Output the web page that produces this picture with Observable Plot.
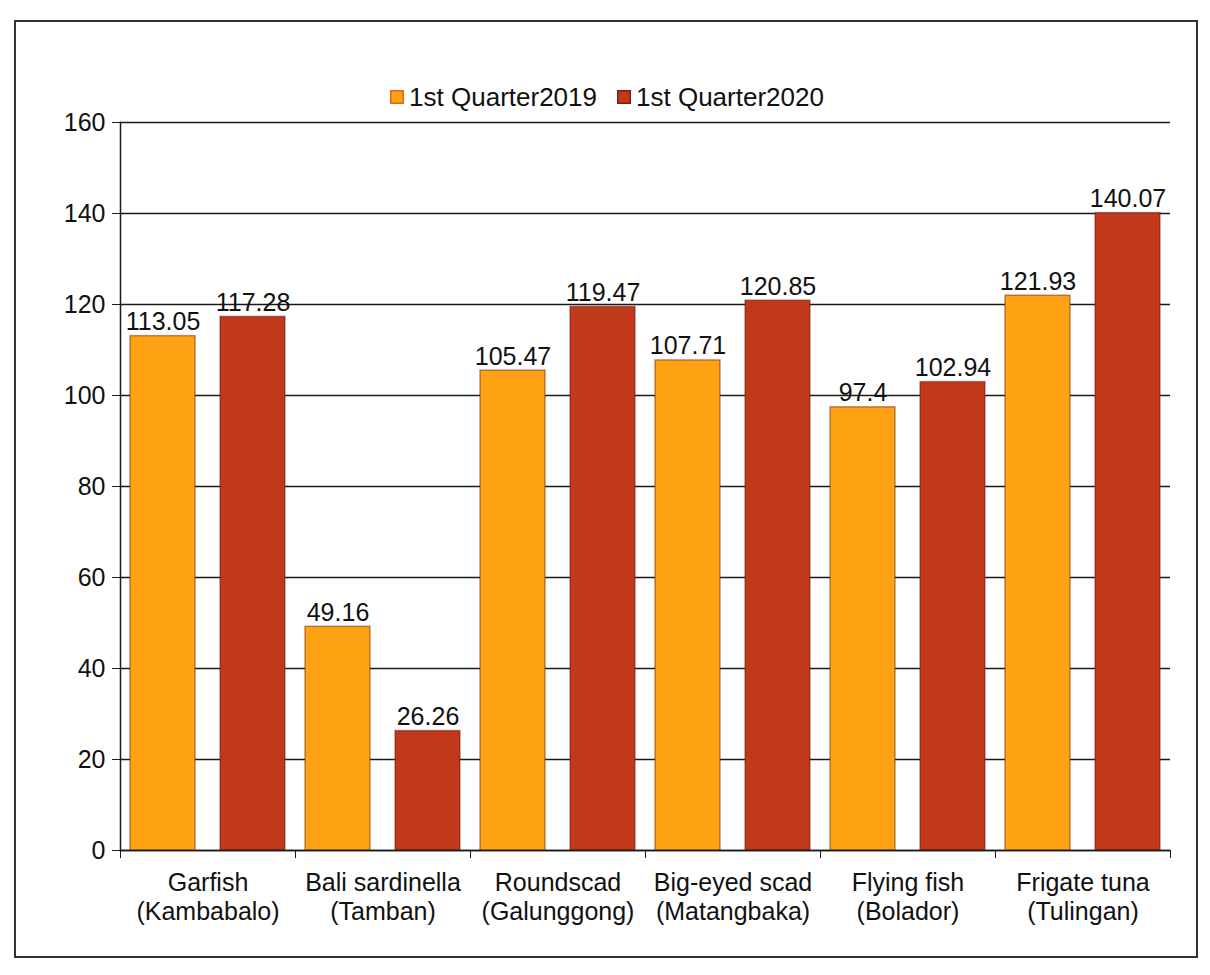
<!DOCTYPE html>
<html><head><meta charset="utf-8">
<script src="https://cdn.jsdelivr.net/npm/d3@7"></script>
<script src="https://cdn.jsdelivr.net/npm/@observablehq/plot@0.6"></script>
<style>
body{margin:0;background:#fff;font-family:"Liberation Sans",Arial,sans-serif;color:#111;}
#border{position:absolute;left:14px;top:20px;width:1184px;height:938px;border:2px solid #333;box-sizing:border-box;}
#legend{position:absolute;top:83px;left:0;width:1214px;display:flex;justify-content:center;gap:20px;font-size:26px;line-height:28px;}
#legend span.sw{display:inline-block;width:14px;height:14px;margin-right:5px;vertical-align:2px;}
#chart{position:absolute;top:108px;left:0;}
</style>
</head><body>
<div id="border"></div>
<div id="legend"></div>
<div id="chart"></div>
<script>
const series = ["1st Quarter2019", "1st Quarter2020"];
const fishNames = ["Garfish", "Bali sardinella", "Roundscad", "Big-eyed scad", "Flying fish", "Frigate tuna"];
const localNames = ["Kambabalo", "Tamban", "Galunggong", "Matangbaka", "Bolador", "Tulingan"];
const q2019 = [113.05, 49.16, 105.47, 107.71, 97.4, 121.93];
const q2020 = [117.28, 26.26, 119.47, 120.85, 102.94, 140.07];
const yTicks = [0, 20, 40, 60, 80, 100, 120, 140, 160];
const colors = ["#FFA314", "#C1391B"];

const categories = fishNames.map((f, i) => `${f}\n(${localNames[i]})`);
const rows = categories.flatMap((c, i) => [
  {category: c, series: series[0], value: q2019[i]},
  {category: c, series: series[1], value: q2020[i]}
]);

const legend = document.getElementById("legend");
series.forEach((s, i) => {
  const item = document.createElement("div");
  item.innerHTML = `<span class="sw" style="background:${colors[i]};box-shadow:inset 0 0 0 1.5px ${i ? '#8a1a10' : '#e8601a'}"></span>${s}`;
  legend.appendChild(item);
});

const W = 1210, ML = 120, MR = 40;
const half = (W - ML - MR) / categories.length / 2;

const chart = Plot.plot({
  width: W,
  height: 827,
  marginTop: 14,
  marginLeft: ML,
  marginRight: MR,
  marginBottom: 85,
  style: {fontFamily: '"Liberation Sans", Arial, sans-serif', fontSize: "24px", color: "#111", background: "transparent", overflow: "visible"},
  fx: {domain: categories, padding: 0, label: null},
  x: {domain: series, paddingInner: 0.28, paddingOuter: 0.11, axis: null},
  y: {domain: [0, 160], label: null},
  color: {domain: series, range: colors},
  marks: [
    Plot.gridY(yTicks, {stroke: "#1a1a1a", strokeOpacity: 1, strokeWidth: 1.3}),
    Plot.barY(rows, {fx: "category", x: "series", y: "value", fill: "series", stroke: "#6a1000", strokeOpacity: 0.45, strokeWidth: 1.5}),
    Plot.ruleY([0], {stroke: "#1a1a1a", strokeWidth: 1.5}),
    Plot.frame({anchor: "left", fx: [categories[0]], stroke: "#1a1a1a", strokeWidth: 1.5}),
    Plot.text(rows, {fx: "category", x: "series", y: "value", text: d => String(d.value), lineAnchor: "bottom", dy: -6, fontSize: 25, fill: "#111"}),
    Plot.axisY(yTicks, {tickSize: 8, tickPadding: 7, fontSize: 25, label: null, stroke: "#1a1a1a"}),
    Plot.axisFx({anchor: "bottom", tickSize: 0, tickPadding: 20, fontSize: 25, lineHeight: 1.15, label: null}),
    Plot.axisFx({anchor: "bottom", text: null, tickSize: 8, dx: -half, label: null, stroke: "#1a1a1a"}),
    Plot.axisFx([categories[categories.length - 1]], {anchor: "bottom", text: null, tickSize: 8, dx: half, label: null, stroke: "#1a1a1a"})
  ]
});
document.getElementById("chart").appendChild(chart);
</script>
</body></html>
